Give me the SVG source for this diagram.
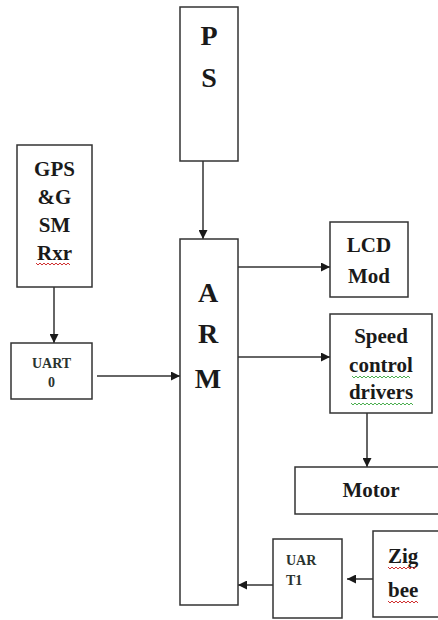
<svg xmlns="http://www.w3.org/2000/svg" width="438" height="620" viewBox="0 0 438 620">
<style>
.box{fill:#fff;stroke:#333;stroke-width:1.5}
.t{font-family:'Liberation Serif','DejaVu Serif',serif;font-weight:bold;fill:#1a1a1a}
.big{font-size:28px}
.mid{font-size:21px}
.sm{font-size:14px;fill:#2a332e}
.c{text-anchor:middle}
.ln{stroke:#333;stroke-width:1.5;fill:none}
.sqr{stroke:#d03030;stroke-width:1;fill:none}
.sqg{stroke:#4caf50;stroke-width:1;fill:none}
</style>
<defs>
<marker id="ah" viewBox="0 0 10 10" refX="10" refY="5" markerWidth="10" markerHeight="9" orient="auto" markerUnits="userSpaceOnUse">
<path d="M0,0 L10,5 L0,10 Z" fill="#1a1a1a"/>
</marker>
</defs>
<rect width="438" height="620" fill="#fff"/>
<g id="connectors">
<line class="ln" x1="203" y1="161" x2="203" y2="239" marker-end="url(#ah)"/>
<line class="ln" x1="54" y1="287" x2="54" y2="343" marker-end="url(#ah)"/>
<line class="ln" x1="97" y1="376" x2="180" y2="376" marker-end="url(#ah)"/>
<line class="ln" x1="238" y1="267" x2="330" y2="267" marker-end="url(#ah)"/>
<line class="ln" x1="238" y1="357" x2="330" y2="357" marker-end="url(#ah)"/>
<line class="ln" x1="367" y1="413" x2="367" y2="467" marker-end="url(#ah)"/>
<line class="ln" x1="373" y1="579" x2="347" y2="579" marker-end="url(#ah)"/>
<line class="ln" x1="273" y1="585" x2="238" y2="585" marker-end="url(#ah)"/>
</g>
<g id="ps">
<rect class="box" x="180" y="7" width="58" height="154"/>
<text class="t big c" x="209" y="45">P</text>
<text class="t big c" x="209" y="87">S</text>
</g>
<g id="arm">
<rect class="box" x="180" y="239" width="58" height="366"/>
<text class="t big c" x="208" y="302">A</text>
<text class="t big c" x="208" y="343">R</text>
<text class="t big c" x="208" y="388">M</text>
</g>
<g id="gps">
<rect class="box" x="17" y="145" width="75" height="142"/>
<text class="t mid c" x="54.5" y="176">GPS</text>
<text class="t mid c" x="54.5" y="204">&amp;G</text>
<text class="t mid c" x="54.5" y="232">SM</text>
<text class="t mid c" x="54.5" y="260">Rxr</text>
<path class="sqr" d="M36,263 l2,2 l2,-2 l2,2 l2,-2 l2,2 l2,-2 l2,2 l2,-2 l2,2 l2,-2 l2,2 l2,-2 l2,2 l2,-2 l2,2 l2,-2 l2,2"/>
</g>
<g id="uart0">
<rect class="box" x="11" y="343" width="81" height="56"/>
<text class="t sm c" x="51.5" y="368">UART</text>
<text class="t sm c" x="51.5" y="387">0</text>
</g>
<g id="lcd">
<rect class="box" x="330" y="222" width="78" height="75"/>
<text class="t mid c" x="369" y="252">LCD</text>
<text class="t mid c" x="369" y="283">Mod</text>
</g>
<g id="speed">
<rect class="box" x="330" y="314" width="102" height="99"/>
<text class="t mid c" x="381" y="343">Speed</text>
<text class="t mid c" x="381" y="372">control</text>
<text class="t mid c" x="381" y="399">drivers</text>
<path class="sqg" d="M352,376 l2,2 l2,-2 l2,2 l2,-2 l2,2 l2,-2 l2,2 l2,-2 l2,2 l2,-2 l2,2 l2,-2 l2,2 l2,-2 l2,2 l2,-2 l2,2 l2,-2 l2,2 l2,-2 l2,2 l2,-2 l2,2 l2,-2 l2,2 l2,-2 l2,2 l2,-2 l2,2"/>
<path class="sqg" d="M351,403 l2,2 l2,-2 l2,2 l2,-2 l2,2 l2,-2 l2,2 l2,-2 l2,2 l2,-2 l2,2 l2,-2 l2,2 l2,-2 l2,2 l2,-2 l2,2 l2,-2 l2,2 l2,-2 l2,2 l2,-2 l2,2 l2,-2 l2,2 l2,-2 l2,2 l2,-2 l2,2 l2,-2 l2,2"/>
</g>
<g id="motor">
<rect class="box" x="295" y="467" width="150" height="47"/>
<text class="t mid c" x="371" y="497">Motor</text>
</g>
<g id="uart1">
<rect class="box" x="273" y="539" width="69" height="79"/>
<text class="t sm" x="286" y="565">UAR</text>
<text class="t sm" x="286" y="585">T1</text>
</g>
<g id="zigbee">
<rect class="box" x="373" y="531" width="72" height="86"/>
<text class="t mid" x="388" y="563">Zig</text>
<text class="t mid" x="388" y="597">bee</text>
<path class="sqr" d="M388,567 l2,2 l2,-2 l2,2 l2,-2 l2,2 l2,-2 l2,2 l2,-2 l2,2 l2,-2 l2,2 l2,-2 l2,2 l2,-2"/>
<path class="sqr" d="M388,601 l2,2 l2,-2 l2,2 l2,-2 l2,2 l2,-2 l2,2 l2,-2 l2,2 l2,-2 l2,2 l2,-2 l2,2 l2,-2 l2,2"/>
</g>
</svg>
